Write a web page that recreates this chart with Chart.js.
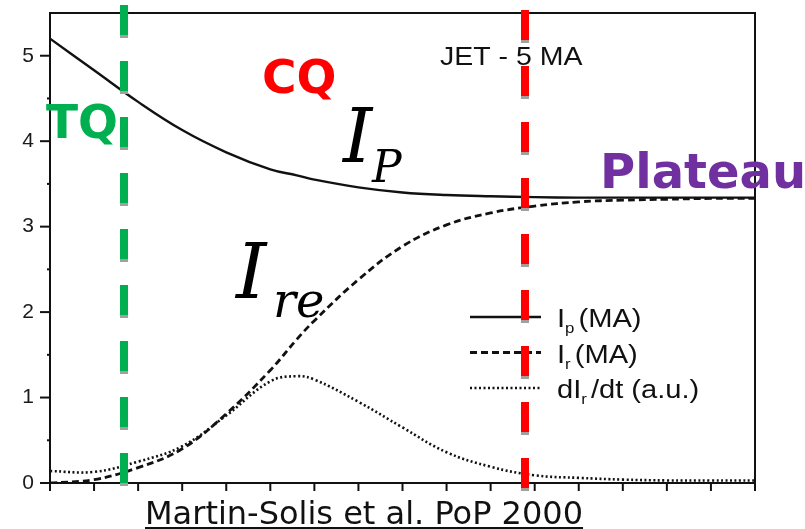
<!DOCTYPE html>
<html>
<head>
<meta charset="utf-8">
<script src="https://cdn.jsdelivr.net/npm/chart.js@4.4.1/dist/chart.umd.min.js"></script>
<style>
  html, body { margin: 0; padding: 0; background: #fff; }
  #wrap { position: relative; width: 805px; height: 529px; overflow: hidden; }
  #cite {
    position: absolute; left: 145px; top: 494px;
    font: 32px 'DejaVu Sans', sans-serif; color: #111;
    text-decoration: underline; text-underline-offset: 3px; white-space: nowrap;
  }
</style>
</head>
<body>
<div id="wrap">
  <canvas id="chart" width="805" height="529"></canvas>
  <div id="cite">Martin-Solis et al. PoP 2000</div>
</div>
<script>
// time axis (arbitrary units, one per x tick)
const timeSteps = [0, 1, 2, 3, 4, 5, 5.6, 6, 7, 8, 9, 10, 11, 12, 13, 14, 15, 16];
// plasma current Ip (MA)
const plasmaCurrent = [5.2, 4.83, 4.46, 4.13, 3.87, 3.67, 3.60, 3.55, 3.46, 3.40, 3.37, 3.355, 3.345, 3.34, 3.34, 3.34, 3.34, 3.34];
// runaway current Ir (MA)
const runawayCurrent = [0.0, 0.04, 0.18, 0.40, 0.81, 1.32, 1.68, 1.90, 2.38, 2.77, 3.02, 3.16, 3.24, 3.29, 3.31, 3.32, 3.33, 3.33];
// dIr/dt (a.u.)
const runawayRate = [0.14, 0.13, 0.25, 0.43, 0.79, 1.19, 1.25, 1.21, 0.95, 0.65, 0.36, 0.19, 0.09, 0.06, 0.04, 0.03, 0.03, 0.03];

const xTicks = [0, 1, 2, 3, 4, 5, 6, 7, 8, 9, 10, 11, 12, 13, 14, 15, 16];
const yMajor = [0, 1, 2, 3, 4, 5];
const yMinor = [0.5, 1.5, 2.5, 3.5, 4.5];

// phase boundaries
const tqTime = 1.68;
const plateauTime = 10.78;

const sans = "'Liberation Sans', Arial, sans-serif";
const ink = '#111';

function toPoints(vals) {
    return vals.map((v, i) => ({ x: timeSteps[i], y: v }));
}

function stretchText(ctx, txt, x, y, sx) {
    ctx.save();
    ctx.translate(x, y);
    ctx.scale(sx, 1);
    ctx.fillText(txt, 0, 0);
    const w = ctx.measureText(txt).width * sx;
    ctx.restore();
    return x + w;
}

function phaseLine(ctx, px, y0, y1, color) {
    ctx.save();
    ctx.lineWidth = 8;
    ctx.lineCap = 'butt';
    ctx.beginPath();
    ctx.moveTo(px, y0);
    ctx.lineTo(px, y1);
    ctx.setLineDash([33, 23]);
    ctx.strokeStyle = '#a0a0a0';
    ctx.stroke();
    ctx.setLineDash([30, 26]);
    ctx.strokeStyle = color;
    ctx.stroke();
    ctx.restore();
}

const legendItems = [
    { main: 'I', sub: 'p', rest: '(MA)', dash: [], width: 2.4 },
    { main: 'I', sub: 'r', rest: '(MA)', dash: [7, 4], width: 2.8 },
    { main: 'dI', sub: 'r', rest: '/dt (a.u.)', dash: [2, 2.5], width: 2.6 }
];

const overlay = {
    id: 'overlay',
    afterDraw(chart) {
        const { ctx, chartArea: a, scales: { x, y } } = chart;
        ctx.save();

        // frame top / right
        ctx.strokeStyle = ink;
        ctx.lineWidth = 2;
        ctx.beginPath();
        ctx.moveTo(a.left, a.top);
        ctx.lineTo(a.right, a.top);
        ctx.lineTo(a.right, a.bottom);
        ctx.stroke();

        // tick marks
        ctx.lineWidth = 2;
        yMajor.forEach(v => {
            const py = y.getPixelForValue(v);
            ctx.beginPath(); ctx.moveTo(a.left - 10, py); ctx.lineTo(a.left, py); ctx.stroke();
        });
        yMinor.forEach(v => {
            const py = y.getPixelForValue(v);
            ctx.beginPath(); ctx.moveTo(a.left - 3, py); ctx.lineTo(a.left, py); ctx.stroke();
        });
        xTicks.forEach(v => {
            const px = x.getPixelForValue(v);
            ctx.beginPath(); ctx.moveTo(px, a.bottom); ctx.lineTo(px, a.bottom + 8); ctx.stroke();
        });

        // legend
        ctx.fillStyle = ink;
        ctx.strokeStyle = ink;
        legendItems.forEach((it, i) => {
            const ly = 317 + i * 35.5;
            ctx.save();
            ctx.lineWidth = it.width;
            ctx.setLineDash(it.dash);
            ctx.beginPath(); ctx.moveTo(470, ly); ctx.lineTo(541, ly); ctx.stroke();
            ctx.restore();
            ctx.font = '26px ' + sans;
            let cx = stretchText(ctx, it.main, 557, ly + 10, 1.12);
            ctx.font = '15px ' + sans;
            cx = stretchText(ctx, it.sub, cx, ly + 16, 1.12);
            ctx.font = '26px ' + sans;
            stretchText(ctx, it.rest, cx + 4, ly + 10, 1.12);
        });

        // phase lines
        phaseLine(ctx, x.getPixelForValue(tqTime), 5, 492, '#00b050');
        phaseLine(ctx, x.getPixelForValue(plateauTime), 10, 494, '#ff0000');

        // JET label
        ctx.fillStyle = ink;
        ctx.font = '25px ' + sans;
        stretchText(ctx, 'JET - 5 MA', 440, 65, 1.14);

        // phase labels
        ctx.font = "bold 47px 'DejaVu Sans', sans-serif";
        ctx.fillStyle = '#00b050';
        ctx.fillText('TQ', 46, 138);
        ctx.fillStyle = '#ff0000';
        ctx.fillText('CQ', 262, 93);
        ctx.font = "bold 48px 'DejaVu Sans', sans-serif";
        ctx.fillStyle = '#7030a0';
        ctx.fillText('Plateau', 600, 188);

        // curve names
        ctx.fillStyle = '#000';
        ctx.font = "italic 74px 'DejaVu Serif', serif";
        ctx.fillText('I', 343, 162);
        ctx.font = "italic 44px 'DejaVu Serif', serif";
        ctx.fillText('P', 372, 182);
        ctx.font = "italic 77px 'DejaVu Serif', serif";
        ctx.fillText('I', 236, 298);
        ctx.font = "italic 48px 'DejaVu Serif', serif";
        ctx.fillText('re', 273, 317);

        ctx.restore();
    }
};

new Chart(document.getElementById('chart'), {
    type: 'line',
    data: {
        datasets: [
            { label: 'Ip (MA)', data: toPoints(plasmaCurrent), borderColor: ink, borderWidth: 2.4 },
            { label: 'Ir (MA)', data: toPoints(runawayCurrent), borderColor: ink, borderWidth: 2.8, borderDash: [7, 4] },
            { label: 'dIr/dt (a.u.)', data: toPoints(runawayRate), borderColor: ink, borderWidth: 2.6, borderDash: [2, 2.5] }
        ]
    },
    options: {
        responsive: false,
        animation: false,
        events: [],
        layout: { padding: { left: 0, top: 13, right: 50, bottom: 36 } },
        elements: {
            point: { radius: 0 },
            line: { tension: 0.4, fill: false }
        },
        plugins: { legend: { display: false }, tooltip: { enabled: false } },
        scales: {
            x: {
                type: 'linear',
                min: 0, max: 16,
                ticks: { display: false, stepSize: 1 },
                grid: { display: false },
                border: { display: true, color: ink, width: 2 },
                afterFit(scale) {
                    scale.height = 10;
                    scale.paddingLeft = 0;
                    scale.paddingRight = 0;
                }
            },
            y: {
                min: 0, max: 5.5,
                ticks: {
                    stepSize: 1,
                    padding: 16,
                    color: '#1a1a1a',
                    font: { family: sans, size: 21 },
                    callback: v => Number.isInteger(v) ? v : ''
                },
                grid: { display: false, drawTicks: false },
                border: { display: true, color: ink, width: 2 },
                afterFit(scale) {
                    scale.width = 50;
                    scale.paddingTop = 0;
                    scale.paddingBottom = 0;
                }
            }
        }
    },
    plugins: [overlay]
});
</script>
</body>
</html>
